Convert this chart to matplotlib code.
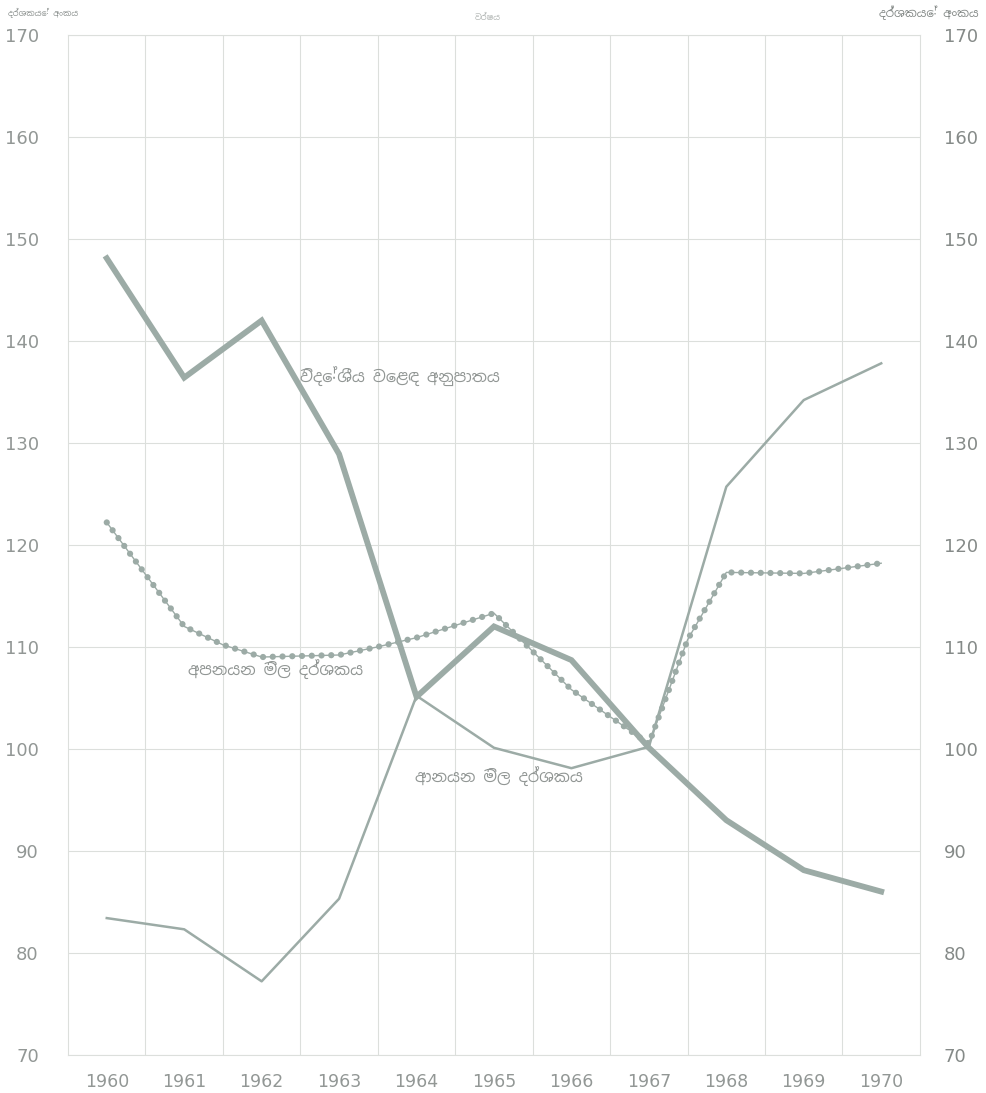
import matplotlib
matplotlib.use("Agg")
import matplotlib.pyplot as plt
from matplotlib import font_manager

# values (index numbers)
years = [1960, 1961, 1962, 1963, 1964, 1965, 1966, 1967, 1968, 1969, 1970]
terms_of_trade = [148.1, 136.4, 142.0, 128.9, 105.1, 112.0, 108.7, 100.1, 93.0, 88.1, 86.0]
import_prices = [83.4, 82.3, 77.2, 85.3, 105.2, 100.1, 98.1, 100.2, 125.7, 134.2, 137.8]

# export price curve is hand drawn, so a few extra points were read along it
export_years = [1960, 1961, 1961.5, 1962, 1963, 1963.5, 1964, 1965, 1966, 1967, 1967.5, 1968, 1969, 1970]
export_prices = [122.2, 112.0, 110.2, 109.0, 109.2, 110.0, 110.9, 113.3, 105.8, 100.5, 110.7, 117.3, 117.2, 118.2]

y_ticks = [70, 80, 90, 100, 110, 120, 130, 140, 150, 160, 170]

axis_title = "දර්ශකයේ අංකය"
top_title = "වර්ෂය"
tot_label = "විදේශීය වෙළඳ අනුපාතය"
export_label = "අපනයන මිල දර්ශකය"
import_label = "ආනයන මිල දර්ශකය"

# look for a font that can draw Sinhala, fall back to DejaVu
sinhala = None
for f in font_manager.fontManager.ttflist:
    if "sinhala" in f.name.lower():
        sinhala = f.name
        break
families = [sinhala, "DejaVu Sans"] if sinhala else ["DejaVu Sans"]

LINE = "#9caba6"
GRID = "#dcdfdc"
TXT = "#929795"

fig = plt.figure(figsize=(9.86, 10.93), dpi=100)
ax = fig.add_axes([0.069, 0.035, 0.864, 0.933])

ax.plot(years, terms_of_trade, color=LINE, lw=4.2, solid_joinstyle="miter", zorder=4)
ax.plot(years, import_prices, color=LINE, lw=1.8, zorder=3)
ax.plot(export_years, export_prices, color=LINE, lw=1.0, zorder=3)
ax.plot(export_years, export_prices, color=LINE, lw=4.5,
        linestyle=(0, (0.01, 1.55)), dash_capstyle="round", zorder=3)

ax.set_xlim(1959.5, 1970.5)
ax.set_ylim(70, 170)
ax.set_xticks(years)
ax.set_xticks([y + 0.5 for y in years[:-1]], minor=True)
ax.set_yticks(y_ticks)
ax.grid(which="minor", axis="x", color=GRID, lw=0.8)
ax.grid(which="major", axis="y", color=GRID, lw=0.8)
ax.tick_params(which="both", length=0)
ax.tick_params(axis="x", pad=13, labelsize=12.5, labelcolor=TXT)
ax.tick_params(axis="y", pad=21, labelsize=13, labelcolor=TXT)
for s in ax.spines.values():
    s.set_color(GRID)
    s.set_linewidth(0.8)

ax2 = ax.twinx()
ax2.set_ylim(70, 170)
ax2.set_yticks(y_ticks)
ax2.tick_params(length=0, pad=17, labelsize=13, labelcolor="#858a88")
for s in ax2.spines.values():
    s.set_visible(False)

ax.text(1962.5, 136.6, tot_label, family=families, fontsize=11.5, color=TXT, va="center")
ax.text(1961.05, 107.8, export_label, family=families, fontsize=11.5, color=TXT, va="center")
ax.text(1963.98, 97.3, import_label, family=families, fontsize=11.5, color=TXT, va="center")

fig.text(0.008, 0.988, axis_title, family=families, fontsize=6, color=TXT, va="center")
fig.text(0.993, 0.988, axis_title, family=families, fontsize=8.5, color="#858a88",
         va="center", ha="right")
fig.text(0.495, 0.984, top_title, family=families, fontsize=6, color="#b5b9b7",
         va="center", ha="center")

fig.savefig("out.png", dpi=100, facecolor="white")
